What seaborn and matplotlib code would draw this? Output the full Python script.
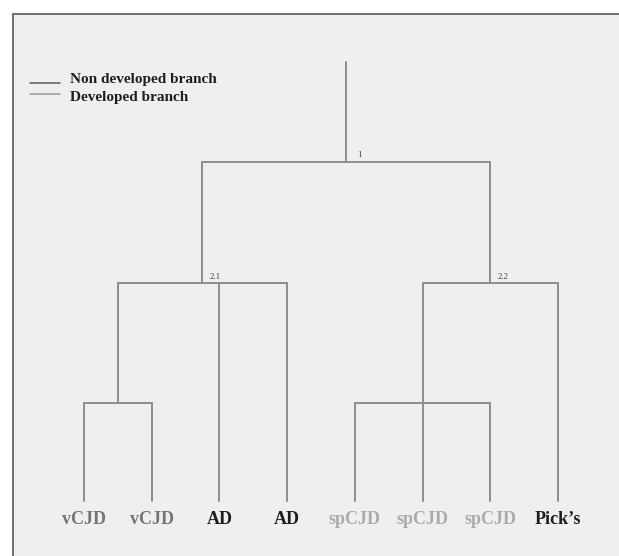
import matplotlib
matplotlib.use("Agg")
import matplotlib.pyplot as plt
from matplotlib.patches import Rectangle
from matplotlib.lines import Line2D
import seaborn as sns
import pandas as pd

# ---- data ----
leaf_labels = ["vCJD", "vCJD", "AD", "AD", "spCJD", "spCJD", "spCJD", "Pick\u2019s"]
leaf_colors = ["#757575", "#757575", "#1e1e1e", "#1e1e1e", "#ababab", "#ababab", "#ababab", "#1e1e1e"]
leaf_pos = [0, 1, 2, 3, 4, 5, 6, 7]
leaf_top = [1.0, 1.0, 2.22, 2.22, 1.0, 2.22, 1.0, 2.22]

# clusters: left, right, height, stem top (None = no stem), label
cluster_names = ["vCJD pair", "spCJD group", "2.1", "2.2", "1"]
cluster_left = [0, 4, 0.5, 5, 1.75]
cluster_right = [1, 6, 3, 7, 6]
cluster_height = [1.0, 1.0, 2.22, 2.22, 3.46]
cluster_stem_top = [2.22, None, 3.46, 3.46, 4.48]
cluster_label = ["", "", "2.1", "2.2", "1"]

legend_labels = ["Non developed branch", "Developed branch"]
legend_colors = ["#5a5a5a", "#9a9a9a"]

tree_color = "#8e8e8e"

# ---- build segment table ----
rows = []
seg = 0
for x, top in zip(leaf_pos, leaf_top):
    rows += [(seg, x, 0.0), (seg, x, top)]
    seg += 1
for l, r, h, st in zip(cluster_left, cluster_right, cluster_height, cluster_stem_top):
    rows += [(seg, l, h), (seg, r, h)]
    seg += 1
    if st is not None:
        c = (l + r) / 2
        rows += [(seg, c, h), (seg, c, st)]
        seg += 1
df = pd.DataFrame(rows, columns=["seg", "x", "y"])

sns.set_theme(style="white")
W, H = 619, 556
fig = plt.figure(figsize=(W / 100, H / 100), dpi=100)
fig.patch.set_facecolor("white")

# frame / background
bg = Rectangle((13 / W, -0.05), 1.1, 1 - 14 / H + 0.05,
               transform=fig.transFigure, facecolor="#efefef",
               edgecolor="#6e6e6e", linewidth=1.4, zorder=-10)
fig.patches.append(bg)

ax = fig.add_axes([0, 0, 1, 1], zorder=5)
ax.patch.set_alpha(0)
# pixel mapping: x_px = 84 + 67.7*i ; y_px = 501 - 98*h
ax.set_xlim(-84 / 67.7, (W - 84) / 67.7)
ax.set_ylim(-(H - 501) / 98, 501 / 98)
ax.axis("off")

sns.lineplot(data=df, x="x", y="y", units="seg", estimator=None, sort=False,
             color=tree_color, linewidth=1.4, ax=ax, legend=False)

# leaf labels
for x, lab, col in zip(leaf_pos, leaf_labels, leaf_colors):
    ax.text(x, -0.19, lab, ha="center", va="center", fontsize=13,
            fontweight="bold", family="Liberation Serif", color=col)

# cluster labels
for l, r, h, lab in zip(cluster_left, cluster_right, cluster_height, cluster_label):
    if lab:
        c = (l + r) / 2
        ax.text(c + 0.19, h + 0.03, lab, ha="center", va="bottom", fontsize=6.5,
                family="Liberation Serif", color="#444444")

# legend (drawn manually in pixel positions)
for i, (lab, col) in enumerate(zip(legend_labels, legend_colors)):
    ly = 83 + 11.5 * i
    ty = 80 + 17 * i
    fig.add_artist(Line2D([30 / W, 60 / W], [1 - ly / H, 1 - ly / H],
                          transform=fig.transFigure, color=col, linewidth=1.1))
    fig.text(70 / W, 1 - ty / H, lab, ha="left", va="center",
             family="Liberation Serif", fontweight="bold", fontsize=11,
             color="#1e1e1e")

fig.savefig("out.png", dpi=100, facecolor="white")
